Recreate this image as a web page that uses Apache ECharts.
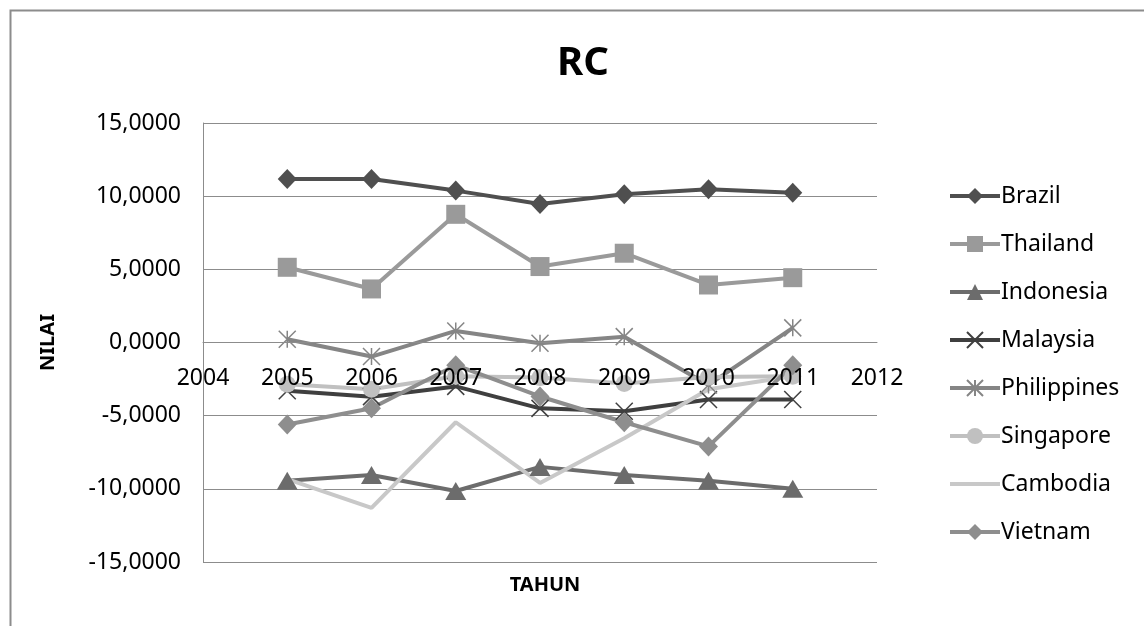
<!DOCTYPE html>
<html>
<head>
<meta charset="utf-8">
<script src="https://cdn.jsdelivr.net/npm/echarts@6/dist/echarts.min.js"></script>
<style>
html,body{margin:0;padding:0;background:#fff;}
#c{width:1144px;height:626px;}
</style>
</head>
<body>
<div id="c"></div>
<script>
var years = [2005, 2006, 2007, 2008, 2009, 2010, 2011];
var brazil      = [11.17, 11.17, 10.38, 9.47, 10.13, 10.47, 10.24];
var thailand    = [5.14, 3.66, 8.76, 5.19, 6.10, 3.93, 4.43];
var indonesia   = [-9.45, -9.05, -10.15, -8.50, -9.05, -9.45, -10.00];
var malaysia    = [-3.30, -3.70, -3.00, -4.50, -4.70, -3.90, -3.90];
var philippines = [0.22, -0.96, 0.79, -0.05, 0.40, -2.90, 1.00];
var singapore   = [-2.85, -3.20, -2.30, -2.40, -2.80, -2.35, -2.30];
var cambodia    = [-9.34, -11.30, -5.45, -9.60, -6.54, -3.20, -2.30];
var vietnam     = [-5.60, -4.49, -1.55, -3.69, -5.45, -7.10, -1.55];
var yTicks = [-15, -10, -5, 0, 5, 10, 15];
var xTicks = [2004, 2005, 2006, 2007, 2008, 2009, 2010, 2011, 2012];

function pts(arr){ return years.map(function(y,i){ return [y, arr[i]]; }); }

var FONT = 'Noto Sans';
var xSym = 'path://M0,0 L10,10 M10,0 L0,10';
var starSym = 'path://M5,0 L5,10 M0,0 L10,10 M10,0 L0,10';

function mk(name, data, color, symbol, size, extra){
  var s = {
    name: name, type: 'line', data: pts(data),
    symbol: symbol, symbolSize: size, showSymbol: symbol !== 'none',
    lineStyle: {color: color, width: 4},
    itemStyle: {color: color},
    z: 2
  };
  if (extra) for (var k in extra) s[k] = extra[k];
  return s;
}

var series = [
  mk('Brazil', brazil, '#4f4f4f', 'diamond', [19, 20]),
  mk('Thailand', thailand, '#9a9a9a', 'rect', 19),
  mk('Indonesia', indonesia, '#6c6c6c', 'triangle', [21, 18]),
  mk('Malaysia', malaysia, '#3f3f3f', xSym, 17, {itemStyle:{color:'rgba(0,0,0,0)', borderColor:'#3f3f3f', borderWidth:1.5}}),
  mk('Philippines', philippines, '#858585', starSym, 17, {itemStyle:{color:'rgba(0,0,0,0)', borderColor:'#858585', borderWidth:1.5}}),
  mk('Singapore', singapore, '#c0c0c0', 'circle', 17),
  mk('Cambodia', cambodia, '#c8c8c8', 'none', 0),
  mk('Vietnam', vietnam, '#8e8e8e', 'diamond', [19, 20])
];

var legendData = series.map(function(s){
  if (s.name === 'Cambodia') return {name: s.name, itemStyle: {opacity: 0}};
  return {name: s.name};
});

var chart = echarts.init(document.getElementById('c'), null, {renderer: 'canvas'});
chart.setOption({
  backgroundColor: '#fff',
  animation: false,
  textStyle: {fontFamily: FONT},
  title: [
    {text: 'RC', left: 578, top: 39, textAlign: 'center',
     textStyle: {fontFamily: FONT, fontSize: 40, fontWeight: 'bold', color: '#000'}},
    {text: 'TAHUN', left: 540, top: 570, textAlign: 'center',
     textStyle: {fontFamily: FONT, fontSize: 20, fontWeight: 'bold', color: '#000'}}
  ],
  graphic: [{
    type: 'rect', shape: {x: 10.5, y: 10.5, width: 1160, height: 640},
    style: {fill: 'none', stroke: '#8c8c8c', lineWidth: 2}, silent: true, z: -10
  }],
  grid: {left: 203, right: 267, top: 123, bottom: 64, containLabel: false},
  legend: {
    orient: 'vertical', left: 943, top: 177,
    itemWidth: 50, itemHeight: 20, itemGap: 20,
    lineStyle: {width: 4},
    textStyle: {fontFamily: FONT, fontSize: 23, color: '#000', lineHeight: 28, padding: [0,0,0,-4]},
    data: legendData
  },
  xAxis: {
    type: 'value', min: 2004, max: 2012, interval: 1,
    offset: -219.5, z: 5,
    axisLine: {show: true, onZero: false, lineStyle: {color: '#8c8c8c', width: 1}},
    axisTick: {show: false},
    splitLine: {show: false},
    axisLabel: {fontFamily: FONT, fontSize: 23, color: '#000', margin: 24,
      formatter: function(v){ return String(v); }}
  },
  yAxis: {
    type: 'value', min: -15, max: 15, interval: 5,
    name: 'NILAI', nameLocation: 'middle', nameGap: 145, nameRotate: 90,
    nameTextStyle: {fontFamily: FONT, fontSize: 20, fontWeight: 'bold', color: '#000'},
    axisLine: {show: true, onZero: false, lineStyle: {color: '#8c8c8c', width: 1}},
    axisTick: {show: false},
    splitLine: {show: true, lineStyle: {color: '#8c8c8c', width: 1}},
    axisLabel: {fontFamily: FONT, fontSize: 23, color: '#000', margin: 22,
      formatter: function(v){ return v.toFixed(4).replace('.', ','); }}
  },
  series: series
});
</script>
</body>
</html>
